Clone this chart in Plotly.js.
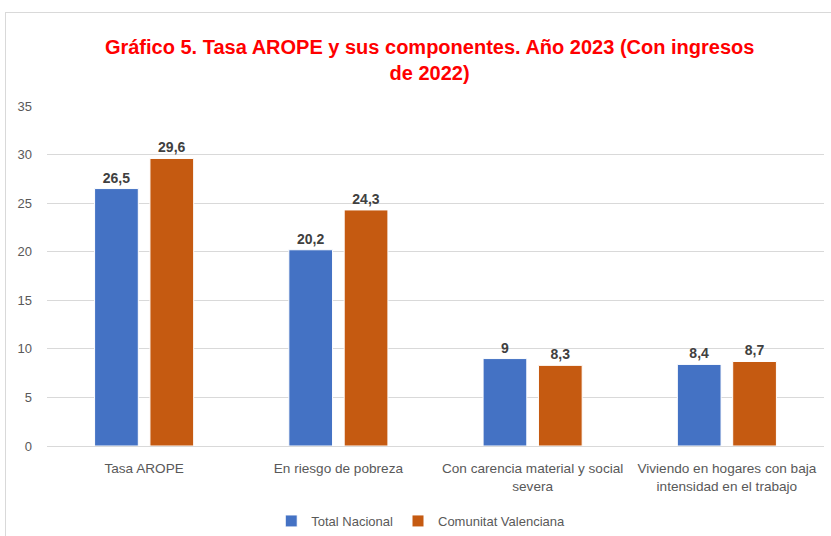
<!DOCTYPE html>
<html>
<head>
<meta charset="utf-8">
<script src="https://cdn.plot.ly/plotly-3.0.1.min.js"></script>
<style>
html,body{margin:0;padding:0;background:#fff;overflow:hidden;}
#chart{width:831px;height:536px;position:absolute;left:0;top:0;}
#frame{position:absolute;left:5px;top:12px;width:900px;height:600px;border:1.5px solid #d9d9d9;pointer-events:none;}
</style>
</head>
<body>
<div id="chart"></div>
<div id="frame"></div>
<script>
const categories = [
  "Tasa AROPE",
  "En riesgo de pobreza",
  "Con carencia material y social<br>severa",
  "Viviendo en hogares con baja<br>intensidad en el trabajo"
];
const totalNacional = [26.5, 20.2, 9, 8.4];
const comunitatValenciana = [29.6, 24.3, 8.3, 8.7];
const seriesNames = ["Total Nacional", "Comunitat Valenciana"];
const yTicks = [0, 5, 10, 15, 20, 25, 30, 35];

const fmt = v => String(v).replace('.', ',');
const textFont = {family: "Liberation Sans, Arial", size: 14, color: "#404040", weight: 700};

const traces = [
  {type: "bar", name: seriesNames[0], x: categories, y: totalNacional,
   text: totalNacional.map(fmt), textposition: "outside", cliponaxis: false,
   textfont: textFont, marker: {color: "#4472C4", line: {color: "#ffffff", width: 1}}, hoverinfo: "none"},
  {type: "bar", name: seriesNames[1], x: categories, y: comunitatValenciana,
   text: comunitatValenciana.map(fmt), textposition: "outside", cliponaxis: false,
   textfont: textFont, marker: {color: "#C55A11", line: {color: "#ffffff", width: 1}}, hoverinfo: "none"}
];

const layout = {
  width: 831, height: 536,
  margin: {l: 47, r: 7, t: 106, b: 90},
  paper_bgcolor: "rgba(0,0,0,0)", plot_bgcolor: "#ffffff",
  font: {family: "Liberation Sans, Arial", size: 13, color: "#595959"},
  title: {
    text: "<b>Gráfico 5. Tasa AROPE y sus componentes. Año 2023 (Con ingresos<br>de 2022)</b>",
    font: {family: "Liberation Sans, Arial", size: 20, color: "#ff0000"},
    x: 0.517, xanchor: "center", y: 0.900, yanchor: "middle"
  },
  barmode: "group", bargap: 0.43, bargroupgap: 0.21,
  xaxis: {
    type: "category", showgrid: false, showline: true, linecolor: "#d9d9d9", linewidth: 1,
    ticks: "", ticklabelstandoff: 10, automargin: false,
    tickfont: {size: 13.6, color: "#595959"}, fixedrange: true
  },
  yaxis: {
    range: [0, 35], tickvals: yTicks, ticktext: yTicks.map(String),
    showgrid: true, gridcolor: "#d9d9d9", gridwidth: 1, zeroline: false,
    showline: false, ticks: "", ticklabelstandoff: 14, automargin: false,
    tickfont: {size: 13, color: "#595959"}, fixedrange: true
  },
  showlegend: true,
  legend: {orientation: "h", x: 0.481, xanchor: "center", yref: "container", y: 0.028, yanchor: "middle",
    font: {size: 13, color: "#595959"}, itemwidth: 30, traceorder: "normal"}
};

Plotly.newPlot("chart", traces, layout, {displayModeBar: false, staticPlot: true});
</script>
</body>
</html>
